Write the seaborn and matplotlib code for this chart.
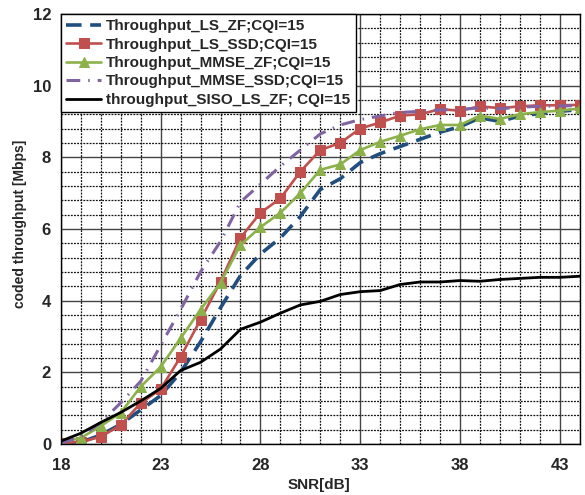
import matplotlib
matplotlib.use("Agg")
import matplotlib.pyplot as plt
import seaborn as sns
import pandas as pd
from matplotlib.ticker import MultipleLocator

snr = list(range(18, 45))
ls_zf = [0.0, 0.05, 0.25, 0.55, 0.95, 1.35, 2.0, 2.85, 3.8, 4.7, 5.3, 5.75, 6.35, 7.1, 7.4,
         7.85, 8.1, 8.3, 8.5, 8.7, 8.85, 9.1, 9.0, 9.15, 9.22, 9.28, 9.33]
ls_ssd = [0.02, 0.06, 0.2, 0.53, 1.14, 1.53, 2.43, 3.47, 4.53, 5.75, 6.45, 6.85, 7.6, 8.2, 8.4,
          8.8, 8.97, 9.16, 9.2, 9.34, 9.3, 9.42, 9.37, 9.42, 9.45, 9.45, 9.46]
mmse_zf = [0.05, 0.17, 0.5, 0.87, 1.6, 2.15, 2.95, 3.75, 4.5, 5.55, 6.05, 6.45, 7.0, 7.65, 7.8,
           8.2, 8.43, 8.6, 8.78, 8.9, 8.9, 9.16, 9.07, 9.2, 9.26, 9.3, 9.36]
mmse_ssd = [0.03, 0.2, 0.6, 1.15, 1.75, 2.75, 3.75, 4.8, 5.65, 6.75, 7.25, 7.75, 8.2, 8.65, 8.9,
            9.05, 9.15, 9.25, 9.28, 9.32, 9.33, 9.38, 9.35, 9.4, 9.42, 9.43, 9.44]
siso_ls_zf = [0.08, 0.3, 0.6, 0.88, 1.2, 1.55, 2.05, 2.28, 2.65, 3.2, 3.4, 3.65, 3.88, 3.98, 4.17,
              4.25, 4.28, 4.45, 4.52, 4.52, 4.56, 4.54, 4.59, 4.62, 4.65, 4.65, 4.68]

labels = ["Throughput_LS_ZF;CQI=15", "Throughput_LS_SSD;CQI=15", "Throughput_MMSE_ZF;CQI=15",
          "Throughput_MMSE_SSD;CQI=15", "throughput_SISO_LS_ZF; CQI=15"]
x_ticks = [18, 23, 28, 33, 38, 43]
y_ticks = [0, 2, 4, 6, 8, 10, 12]

sns.set_style("white")
plt.rcParams['font.family'] = ['Liberation Sans', 'DejaVu Sans']
plt.rcParams['font.weight'] = 'bold'

fig = plt.figure(figsize=(5.85, 4.95), dpi=100)
ax = fig.add_axes([0.104, 0.103, 0.887, 0.869])

# grid
ax.xaxis.set_major_locator(MultipleLocator(5))
ax.xaxis.set_minor_locator(MultipleLocator(1))
ax.yaxis.set_major_locator(MultipleLocator(2))
ax.yaxis.set_minor_locator(MultipleLocator(0.4))
ax.grid(which='minor', color='#111111', linestyle=(0, (1.5, 1)), linewidth=0.9)
ax.grid(which='major', color='#444444', linestyle='-', linewidth=1.0)
ax.set_axisbelow(True)

series = [
    (ls_zf, dict(color='#1F4E7F', linestyle=(0, (4.3, 2.4)), linewidth=2.6)),
    (ls_ssd, dict(color='#C0504D', marker='s', markersize=7, mec='#C0504D', mfc='#C0504D', linewidth=1.9)),
    (mmse_zf, dict(color='#8CB14B', marker='^', markersize=7.5, mec='#8CB14B', mfc='#8CB14B', linewidth=1.9)),
    (mmse_ssd, dict(color='#8064A2', linestyle=(0, (4.5, 2.6, 0.5, 2.6)), linewidth=2.2)),
    (siso_ls_zf, dict(color='black', linestyle='-', linewidth=2.0)),
]
for (vals, kw), lab in zip(series, labels):
    df = pd.DataFrame({"snr": snr, "val": vals})
    sns.lineplot(data=df, x="snr", y="val", ax=ax, label=lab, **kw)

ax.set_xlim(18, 44)
ax.set_ylim(0, 12)
ax.set_xticks(x_ticks)
ax.set_yticks(y_ticks)
ax.tick_params(axis='both', which='major', labelsize=12, length=4, width=1, direction='out', pad=3)
ax.tick_params(axis='both', which='minor', length=0)
for t in ax.get_xticklabels() + ax.get_yticklabels():
    t.set_fontweight('bold')
ax.tick_params(axis='x', pad=6)

ax.set_xlabel("SNR[dB]", fontsize=11, fontweight='bold')
ax.set_ylabel("coded throughput [Mbps]", fontsize=10, fontweight='bold')
ax.xaxis.set_label_coords(0.497, -0.079)
ax.yaxis.set_label_coords(-0.066, 0.512)

for s in ax.spines.values():
    s.set_color('black')
    s.set_linewidth(1.0)

leg = ax.legend(loc='upper left', borderaxespad=0, fontsize=11, frameon=True,
                fancybox=False, framealpha=1, edgecolor='black', handlelength=2.3,
                labelspacing=0.29, borderpad=0.35, handletextpad=0.33)
leg.get_frame().set_linewidth(1.0)
for t in leg.get_texts():
    t.set_fontweight('bold')

fig.savefig("out.png", dpi=100)
